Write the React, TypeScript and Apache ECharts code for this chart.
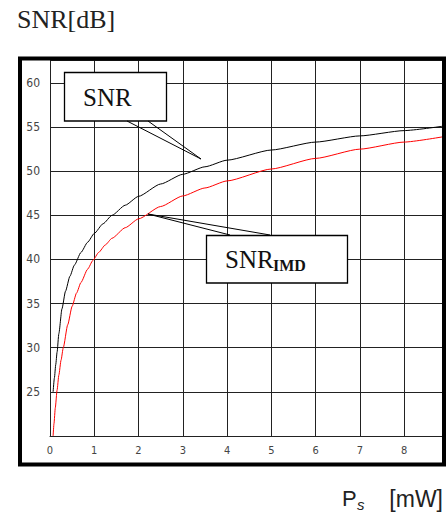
import React, { useEffect, useRef } from "react";
import * as echarts from "echarts";

const snrX = [0.07, 0.1, 0.13, 0.16, 0.2, 0.27, 0.35, 0.45, 0.55, 0.7, 0.85, 1.0, 1.2, 1.4, 1.7, 2.0, 2.5, 3.0, 3.5, 4.0, 5.0, 6.0, 7.0, 8.0, 8.88];
const snrY = [25, 26.6, 28.1, 29.5, 31.6, 34.4, 36.4, 38.1, 39.35, 40.8, 41.95, 42.95, 44.05, 45.0, 46.15, 47.15, 48.55, 49.65, 50.5, 51.25, 52.4, 53.3, 54.0, 54.6, 55.1];

const imdX = [0.07, 0.09, 0.12, 0.16, 0.2, 0.25, 0.3, 0.4, 0.5, 0.6, 0.7, 0.85, 0.97, 1.1, 1.25, 1.4, 1.7, 2.0, 2.5, 3.0, 3.5, 4.0, 5.0, 6.0, 7.0, 8.0, 8.88];
const imdY = [20, 21.4, 23.2, 25.2, 26.9, 28.6, 30, 32.6, 34.7, 36.2, 37.4, 38.9, 39.9, 40.8, 41.65, 42.4, 43.6, 44.6, 46.0, 47.2, 48.1, 48.9, 50.25, 51.45, 52.5, 53.3, 53.9];

const xTicks = [0, 1, 2, 3, 4, 5, 6, 7, 8];
const yTicks = [25, 30, 35, 40, 45, 50, 55, 60];

const title = "SNR[dB]";
const snrLabel = "SNR";
const imdSub = "IMD";

export default function App() {
  const ref = useRef<HTMLDivElement>(null);
  useEffect(() => {
    if (!ref.current) return;
    const chart = echarts.init(ref.current, null, { renderer: "svg" });
    const gridColor = "#222";
    chart.setOption({
      animation: false,
      backgroundColor: "#fff",
      grid: { left: 50, right: 4, top: 60, bottom: 84 },
      xAxis: {
        type: "value",
        min: 0,
        max: 8.88,
        interval: 1,
        axisLine: { show: true, lineStyle: { color: gridColor, width: 1 } },
        axisTick: { show: false },
        splitLine: { show: true, lineStyle: { color: gridColor, width: 1 } },
        axisLabel: {
          margin: 9,
          fontFamily: "DejaVu Sans Condensed",
          fontSize: 11,
          color: "#444",
          formatter: (v: number) => (xTicks.indexOf(v) >= 0 ? String(v) : ""),
        },
      },
      yAxis: {
        type: "value",
        min: 20,
        max: 62.6,
        interval: 5,
        axisLine: { show: true, lineStyle: { color: gridColor, width: 1 } },
        axisTick: { show: false },
        splitLine: { show: true, lineStyle: { color: gridColor, width: 1 } },
        axisLabel: {
          margin: 10,
          fontFamily: "DejaVu Sans Condensed",
          fontSize: 12,
          color: "#444",
          formatter: (v: number) => (yTicks.indexOf(v) >= 0 ? String(v) : ""),
        },
      },
      series: [
        {
          type: "line",
          name: "SNR",
          data: snrX.map((x, i) => [x, snrY[i]]),
          showSymbol: false,
          smooth: 0.2,
          smoothMonotone: "x",
          lineStyle: { color: "#000", width: 1 },
          z: 3,
        },
        {
          type: "line",
          name: "SNR_IMD",
          data: imdX.map((x, i) => [x, imdY[i]]),
          showSymbol: false,
          smooth: 0.2,
          smoothMonotone: "x",
          lineStyle: { color: "#ff0000", width: 1 },
          z: 3,
        },
      ],
      graphic: [
        {
          type: "rect",
          shape: { x: 20, y: 58.5, width: 424, height: 406 },
          style: { fill: "none", stroke: "#000", lineWidth: 4 },
          z: 10,
        },
        {
          type: "text",
          x: 17,
          y: 19,
          style: { text: title, font: "26px 'Liberation Serif'", fill: "#222", textVerticalAlign: "middle" },
        },
        {
          type: "rect",
          shape: { x: 64.5, y: 72.5, width: 102, height: 48.5 },
          style: { fill: "#fff", stroke: "#000", lineWidth: 1.3 },
          z: 10,
        },
        {
          type: "text",
          x: 83,
          y: 97,
          style: { text: snrLabel, font: "25px 'Liberation Serif'", fill: "#111", textVerticalAlign: "middle" },
          z: 11,
        },
        {
          type: "polyline",
          shape: { points: [[127, 121], [201, 159], [148, 121]] },
          style: { fill: "none", stroke: "#000", lineWidth: 1 },
          z: 10,
        },
        {
          type: "rect",
          shape: { x: 206.5, y: 235.5, width: 141, height: 47.5 },
          style: { fill: "#fff", stroke: "#000", lineWidth: 1.3 },
          z: 10,
        },
        {
          type: "text",
          x: 225,
          y: 259,
          style: { text: snrLabel, font: "25px 'Liberation Serif'", fill: "#111", textVerticalAlign: "middle" },
          z: 11,
        },
        {
          type: "text",
          x: 273,
          y: 265,
          style: { text: imdSub, font: "bold 16px 'Liberation Serif'", fill: "#111", textVerticalAlign: "middle" },
          z: 11,
        },
        {
          type: "polyline",
          shape: { points: [[230, 235], [148, 214], [270, 235]] },
          style: { fill: "none", stroke: "#000", lineWidth: 1 },
          z: 10,
        },
        {
          type: "text",
          x: 342,
          y: 498,
          style: { text: "P", font: "22px 'Liberation Sans'", fill: "#222", textVerticalAlign: "middle" },
        },
        {
          type: "text",
          x: 357,
          y: 504,
          style: { text: "s", font: "italic 15px 'Liberation Sans'", fill: "#222", textVerticalAlign: "middle" },
        },
        {
          type: "text",
          x: 443,
          y: 499,
          style: { text: "[mW]", font: "23px 'Liberation Sans'", fill: "#222", textAlign: "right", textVerticalAlign: "middle" },
        },
      ],
    });
    return () => chart.dispose();
  }, []);
  return <div ref={ref} style={{ position: "fixed", left: 0, top: 0, width: 447, height: 520 }} />;
}
